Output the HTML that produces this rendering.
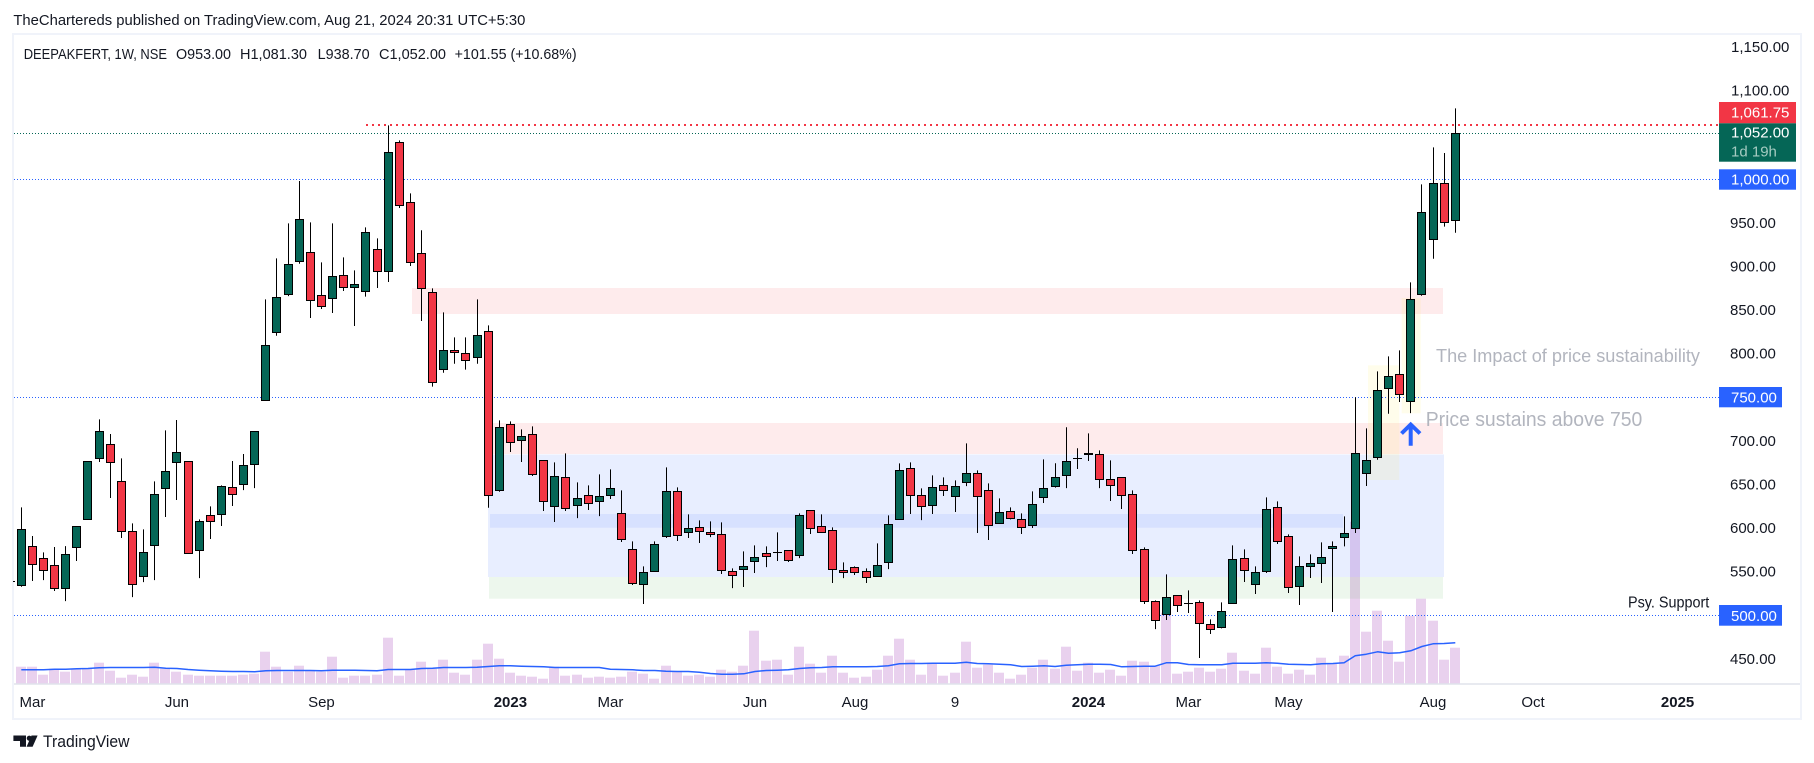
<!DOCTYPE html>
<html lang="en">
<head>
<meta charset="utf-8">
<title>DEEPAKFERT 1W chart</title>
<style>
  html, body { margin: 0; padding: 0; background: #ffffff; width: 1814px; height: 763px; overflow: hidden; }
  svg { display: block; font-family: "Liberation Sans", sans-serif; }
</style>
</head>
<body>
<svg id="chart" xmlns="http://www.w3.org/2000/svg" width="1814" height="763" viewBox="0 0 1814 763">
  <rect x="0" y="0" width="1814" height="763" fill="#ffffff"/>
  <text x="13.4" y="25" font-size="15" fill="#131722" textLength="512" lengthAdjust="spacingAndGlyphs">TheChartereds published on TradingView.com, Aug 21, 2024 20:31 UTC+5:30</text>
  <rect x="13" y="34" width="1788" height="685" fill="#ffffff" stroke="#f0f3fa" stroke-width="2"/>

  <g id="volumes"></g>

  <g>
    <rect x="412" y="288" width="1031" height="26" fill="#f23645" fill-opacity="0.1"/>
    <rect x="488" y="423" width="955" height="31" fill="#f23645" fill-opacity="0.1"/>
    <rect x="488" y="454.5" width="956" height="122.5" fill="#2962ff" fill-opacity="0.11"/>
    <rect x="490" y="514" width="853" height="13.7" fill="#2962ff" fill-opacity="0.09"/>
    <rect x="489" y="577" width="954" height="21.7" fill="#4caf50" fill-opacity="0.1"/>
    <rect x="1368" y="365.3" width="31.3" height="114.7" fill="#ffeb3b" fill-opacity="0.1"/>
    <rect x="1401.7" y="298" width="19" height="115.3" fill="#ffeb3b" fill-opacity="0.1"/>
  </g>

  <g id="hlines"></g>
  <path id="vol-ma" fill="none" stroke="#2962ff" stroke-width="1.5" stroke-linejoin="round"/>
  <line x1="13" x2="15" y1="581.5" y2="581.5" stroke="#000000" stroke-width="1"/>
  <g id="candles"></g>

  <line x1="14" x2="1800" y1="684" y2="684" stroke="#e0e3eb" stroke-width="1.5"/>
  <g id="price-ticks"></g>
  <g id="time-ticks"></g>

  <g>
    <rect x="1719" y="102" width="77" height="21.3" fill="#f23645"/>
    <text x="1731" y="117.5" font-size="15" fill="#ffffff">1,061.75</text>
    <rect x="1719" y="123.3" width="77" height="38.4" fill="#056656"/>
    <text x="1731" y="137.5" font-size="15" fill="#ffffff">1,052.00</text>
    <text x="1731" y="156.5" font-size="15" fill="#a5cbc1">1d 19h</text>
    <rect x="1719" y="169.3" width="77" height="20.4" fill="#2962ff"/>
    <text x="1731" y="184.3" font-size="15" fill="#ffffff">1,000.00</text>
    <rect x="1719" y="387" width="63" height="20.3" fill="#2962ff"/>
    <text x="1731" y="402.5" font-size="15" fill="#ffffff">750.00</text>
    <rect x="1719" y="605" width="63" height="20.7" fill="#2962ff"/>
    <text x="1731" y="620.8" font-size="15" fill="#ffffff">500.00</text>
  </g>

  <g font-size="15" fill="#131722">
    <text x="23.7" y="59" textLength="143.3" lengthAdjust="spacingAndGlyphs">DEEPAKFERT, 1W, NSE</text>
    <text x="176" y="59" textLength="55" lengthAdjust="spacingAndGlyphs">O953.00</text>
    <text x="240" y="59" textLength="67" lengthAdjust="spacingAndGlyphs">H1,081.30</text>
    <text x="317.6" y="59" textLength="52" lengthAdjust="spacingAndGlyphs">L938.70</text>
    <text x="379" y="59" textLength="67" lengthAdjust="spacingAndGlyphs">C1,052.00</text>
    <text x="454.6" y="59" textLength="122" lengthAdjust="spacingAndGlyphs">+101.55 (+10.68%)</text>
  </g>

  <text x="1436" y="362" font-size="18" fill="#b2b5be" textLength="264" lengthAdjust="spacingAndGlyphs">The Impact of price sustainability</text>
  <text x="1425.7" y="426" font-size="20" fill="#b2b5be" textLength="216.6" lengthAdjust="spacingAndGlyphs">Price sustains above 750</text>
  <text x="1628" y="607.5" font-size="15.5" fill="#131722" textLength="81.3" lengthAdjust="spacingAndGlyphs">Psy. Support</text>
  <path d="M1401.5 433.5 L1410.7 424.5 L1420 433.5 M1410.7 425 V445.7" fill="none" stroke="#2962ff" stroke-width="4" stroke-linejoin="miter"/>

  <g>
    <path d="M13.4 735.5 H26 V746.7 H20 V741 H13.4 Z" fill="#131722"/>
    <circle cx="29.3" cy="738.2" r="2.6" fill="#131722"/>
    <path d="M31.5 735.5 H37.6 L32.6 746.7 H26.6 Z" fill="#131722"/>
    <text x="43" y="747" font-size="17" fill="#131722" textLength="86.5" lengthAdjust="spacingAndGlyphs">TradingView</text>
  </g>
</svg>

<script>
const opens = [534.3,579,565.3,557.3,530.9,577.9,610,680,696,653.6,596.2,544.6,580.2,645.6,675.4,676.5,574.5,614.6,615.7,646.7,650.1,673.1,746.5,
824.5,868,905.5,916.2,866.9,863.5,889.9,876.1,871.5,919.7,894.4,1042.4,973.6,915.1,870.4,782,803.8,800.4,795.8,825.6,
643.3,718.9,700.6,707.5,677.7,624.9,658.2,626,637.5,630.6,637.5,616.9,575.6,535.5,550.4,590.5,642.1,595.1,600.8,595.1,592.8,550.4,552.7,561.8,571,572,574.4,
568.7,620.3,602,597.4,551.5,555,550.4,544.6,560.7,610,668.5,637.5,626,649,636.4,652.4,662.8,643.3,605.5,619.2,610,603.2,635.3,647.9,660.5,680,684.6,684.6,655.9,658.2,
638.7,575.6,516,501.1,522.9,513.7,514.8,489.6,486.2,513.7,565.3,535.5,550.4,623.8,590.5,533.2,556.1,559.6,576.8,589.4,599.7,662.8,680.7,760.2,776.3,745.3,868,931.1,995.4,953];
const highs = [623.8,590.9,572.2,578.3,579.4,602,676.5,724.7,707.9,680,605.4,598.5,653.6,712.1,723.9,676.5,610,624.9,649,676.9,685,710.9,862.3,
909.3,949.5,998,950.6,904.8,949.5,910.5,895.6,944.9,932.3,1061.9,1044.7,983.9,941.5,874.9,847.4,818.7,818.7,862.3,832.5,
723.5,722.4,713.2,716.7,677.7,675.4,685.7,652.4,649,661.6,667.3,643.3,584.8,556.1,584.8,669.6,646.7,615.7,608.9,607.7,606.6,553.8,573.3,580.2,579,595.1,574.4,
616.9,620.3,615.7,600.8,560.7,556.1,553.8,582.5,614.6,674.2,675.4,645.6,660.5,658.2,654.7,697.2,666.2,651.3,634.1,623.8,616.9,642.1,678.8,674.3,715.6,691.5,708.7,689.2,677.7,658.2,
643.3,577.9,517.1,547,522.9,528.6,517.1,495.3,514.8,580.2,575.6,556.1,635.3,630.7,592.8,567.6,569.9,583.7,584.8,613.5,750,714.4,779.7,796.9,803.8,881.8,994.2,1036.6,1030.1,1081.3];
const lows = [532.8,539.3,540.4,527.8,516.3,562.2,610,675.8,634.5,588.6,520.9,538.1,540.4,612.7,632.2,571,542.7,587.5,602.4,625.3,643.6,645.9,746.5,
820.6,866,903.2,840.9,851.2,846.7,871.9,831.7,865.4,875.3,882.2,967.1,900.6,837.5,762.2,778.2,788.5,781.7,788.5,623.4,
641.7,687.2,675.8,659.7,619.6,607,619.6,611.5,620.7,613.8,633.3,584,534.7,512.9,550.4,588.6,585.2,588.6,582.9,589.7,547.3,531.2,532.4,548.5,555.3,562.2,561.1,
565.6,593.2,595.1,537,542.7,546.2,537,544.6,553,610,616.1,609.2,616.1,636.8,618.4,648.2,594.4,586.3,605.5,610,593.2,600.1,628.8,646.4,645.9,667.8,676.9,645.9,631.1,621.9,
570.3,512.9,484.2,494.6,503.8,502.6,451,478.5,485,513.7,538.2,524.4,548.5,581.7,525.6,511.8,542.8,537,503.8,579,594.4,648.3,678.4,731.2,744.6,731.9,866.5,908.9,945.7,938.7];
const closes = [598.5,558.4,551.5,530.9,569.9,602,676.5,710.9,675.4,596.2,535.5,572.2,638.7,665.1,686.8,571,607.7,607.7,647.9,638.7,671.9,710.9,809.6,
864.6,902.5,954.1,861.2,854.3,888.7,876.1,879.5,939.2,894.4,1030.9,970.1,904.8,875,767.1,803.8,801.5,792.4,821,637.5,
715.5,698.3,705.2,661.6,630.6,659.3,622.6,634.1,628.3,636.4,645.6,587.1,536.6,549.2,581.3,642.1,591.6,599.7,596.2,592.8,551.5,545.8,556.1,566.4,567.6,572.2,563,
614.6,599.7,595.1,552.7,549.2,549.2,543.5,557.2,604.3,666.2,637.5,624.9,646.7,643.3,647.9,662.8,636.4,603.2,618.1,611.2,600.9,627.2,645.6,658.2,676.6,680,685.7,655.9,649,637.6,
574.5,516,494.2,520.6,511.4,513.7,490.7,483.9,504.5,564.2,551.5,549.2,621.5,584.8,532,556.1,559.6,566.5,579,594,685.7,677.7,758,774,753.4,862.3,962.1,995.4,950.6,1052];
const volumes = [17.3,17.3,9.3,15.3,12.3,15.3,15.3,21.3,13.3,6.3,9.3,7.3,21.3,15.3,12.3,9.3,8.3,8.3,8.3,8.3,9.3,10.3,32.3,17.3,12.3,18.3,13.3,12.3,27.3,6.3,8.3,8.3,9.3,46.3,8.3,14.3,22.3,15.3,24.3,11.3,9.3,24.3,40.3,25.3,11.3,8.3,7.3,5.3,17.3,8.3,9.3,6.3,7.3,6.3,7.3,12.3,10.3,5.3,18.3,12.3,8.3,9.3,
7.3,14.3,12.3,18.3,53.3,23.3,24.3,9.3,37.3,20.3,11.3,28.3,11.3,6.3,7.3,14.3,28.3,45.3,24.3,9.3,21.3,8.3,11.3,42.3,16.3,19.3,11.3,5.3,9.3,16.3,24.3,15.3,37.3,13.3,21.3,11.3,14.3,8.3,23.3,22.3,18.3,71.3,10.3,12.3,16.3,12.3,15.3,31.3,13.3,10.3,36.3,17.3,10.3,14.3,9.3,26.3,20,28.3,162.3,52.3,73.3,43.3,22.3,68.3,85.3,63.3,24.3,36.3];
const volumeMA = [14.2,14.2,14.2,14.8,14.8,15.2,15.5,16.2,16.5,16.5,16.5,16.5,16.8,15.8,15.5,14.5,13.8,13.2,12.8,12.5,12.5,12.2,13.2,13.5,13.5,13.5,13.5,13.2,13.8,13.8,13.8,13.5,13.2,14.5,14.5,14.5,15.5,15.8,16.5,16.5,16.5,16.8,17.5,18.2,18.2,17.8,17.5,17.2,16.5,16.5,16.5,16.5,16.5,14.8,14.5,14.2,13.5,13.5,12.8,12.5,12.5,11.8,
10.5,9.8,9.8,10.2,12.5,13.5,13.8,14.2,15.5,16.2,16.5,17.2,17.2,17.2,17.2,17.5,18.2,20.2,20.5,20.5,20.8,20.8,20.8,21.8,20.5,20.2,19.8,19.2,17.5,17.8,18.2,17.5,18.8,19.2,19.8,19.8,19.5,17.2,17.5,17.8,17.8,21.2,21.2,19.5,19.2,19.2,19.2,20.8,20.8,20.8,21.2,20.8,19.8,19.5,19.2,20.2,20.5,21.2,28.2,29.8,32.2,30.8,31.2,33.2,37.5,40.2,40.5,41.2];
const priceTicks = [1150,1100,950,900,850,800,700,650,600,550,450];
const priceTickLabels = ["1,150.00","1,100.00","950.00","900.00","850.00","800.00","700.00","650.00","600.00","550.00","450.00"];
const timeLabels = ["Mar","Jun","Sep","2023","Mar","Jun","Aug","9","2024","Mar","May","Aug","Oct","2025"];
const timeLabelBars = [1,14,27,44,53,66,75,84,96,105,114,127,136,149];
const levelPrices = [1052,1000,750,500];
const levelColors = ["#056656","#2962ff","#2962ff","#2962ff"];
const resistancePrice = 1061.75;

const SVGNS = "http://www.w3.org/2000/svg";
function priceY(p) { return 179.3 + (1000 - p) * 0.872; }
function barX(i) { return 21.3 + 11.116 * i; }
function crisp(v) { return Math.floor(v) + 0.5; }
function volumeY(v) { return 684 - v; }
function make(tag, parent) {
  const el = document.createElementNS(SVGNS, tag);
  parent.appendChild(el);
  return el;
}

const volumeLayer = document.getElementById("volumes");
volumes.forEach(function (v, i) {
  const r = make("rect", volumeLayer);
  
  
  r.setAttribute("x", Math.floor(barX(i)) - 5);
  r.setAttribute("width", 10);
  r.setAttribute("y", volumeY(v));
  r.setAttribute("height", 684 - volumeY(v));
  r.setAttribute("fill", "#e9d1ee");
});

const lineLayer = document.getElementById("hlines");
levelPrices.forEach(function (p, i) {
  const l = make("line", lineLayer);
  
  
  l.setAttribute("x1", 14);
  l.setAttribute("x2", 1719);
  l.setAttribute("y1", crisp(priceY(p)));
  l.setAttribute("y2", crisp(priceY(p)));
  l.setAttribute("stroke", levelColors[i]);
  l.setAttribute("stroke-width", 1);
  l.setAttribute("stroke-dasharray", "1 2");
});
const resistanceLine = make("line", lineLayer);


resistanceLine.setAttribute("x1", 366);
resistanceLine.setAttribute("x2", 1719);
resistanceLine.setAttribute("y1", Math.round(priceY(resistancePrice) - 0.5));
resistanceLine.setAttribute("y2", Math.round(priceY(resistancePrice) - 0.5));
resistanceLine.setAttribute("stroke", "#f23645");
resistanceLine.setAttribute("stroke-width", 2);
resistanceLine.setAttribute("stroke-dasharray", "2 4");

document.getElementById("vol-ma").setAttribute("d", volumeMA.map(function (v, i) {
  return (i ? "L" : "M") + barX(i).toFixed(1) + " " + volumeY(v).toFixed(1);
}).join(" "));

const candleLayer = document.getElementById("candles");
closes.forEach(function (c, i) {
  const o = opens[i];
  const x = crisp(barX(i));
  const top = crisp(priceY(Math.max(o, c)));
  const bottom = crisp(priceY(Math.min(o, c)));
  const g = make("g", candleLayer);
  
  
  const wick = make("line", g);
  
  
  wick.setAttribute("x1", x);
  wick.setAttribute("x2", x);
  wick.setAttribute("y1", priceY(highs[i]));
  wick.setAttribute("y2", priceY(lows[i]));
  wick.setAttribute("stroke", "#000000");
  wick.setAttribute("stroke-width", 1);
  const body = make("rect", g);
  
  
  body.setAttribute("x", x - 4);
  body.setAttribute("width", 8);
  body.setAttribute("y", top);
  body.setAttribute("height", Math.max(0.01, bottom - top));
  body.setAttribute("fill", c >= o ? "#056656" : "#f23645");
  body.setAttribute("stroke", "#000000");
  body.setAttribute("stroke-width", 1);
});

const priceLayer = document.getElementById("price-ticks");
priceTicks.forEach(function (p, i) {
  const t = make("text", priceLayer);
  
  
  t.setAttribute("x", i < 2 ? 1731 : 1730);
  t.setAttribute("y", priceY(p) + (p > 1000 ? 3.5 : 5));
  t.setAttribute("font-size", 15);
  t.setAttribute("fill", "#131722");
  t.textContent = priceTickLabels[i];
});

const timeLayer = document.getElementById("time-ticks");
timeLabels.forEach(function (label, i) {
  const t = make("text", timeLayer);
  
  
  t.setAttribute("x", barX(timeLabelBars[i]));
  t.setAttribute("y", 707);
  t.setAttribute("font-size", 15);
  t.setAttribute("text-anchor", "middle");
  t.setAttribute("fill", "#131722");
  if (/^\d{4}$/.test(label)) {
    t.setAttribute("font-weight", "bold");
  }
  t.textContent = label;
});
</script>
</body>
</html>
